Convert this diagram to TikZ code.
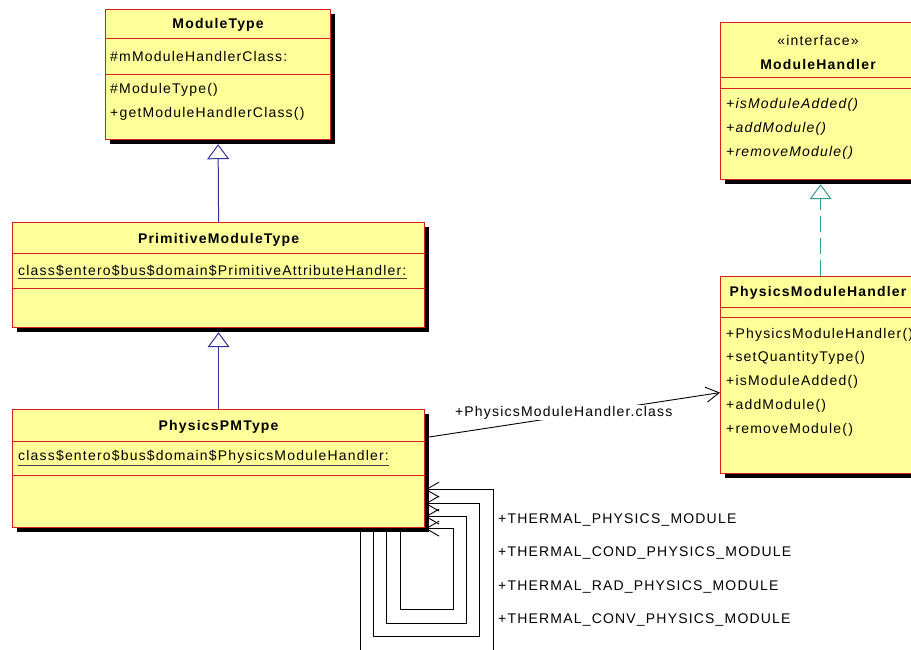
\documentclass[tikz,border=0pt]{standalone}
\usepackage{fontspec}
\newfontfamily\umlfont{Liberation Sans}[LetterSpace=8.5]
\newcommand\umlsize{\umlfont\fontsize{14}{16}\selectfont}
\usetikzlibrary{arrows.meta,shadows}
\definecolor{BoxFill}{HTML}{FFFF99}
\definecolor{BoxLine}{HTML}{D42020}
\definecolor{NavyLine}{HTML}{333399}
\definecolor{TealLine}{HTML}{339999}

\tikzset{
  classbox/.style={rectangle, draw=BoxLine, line width=1.2pt, fill=BoxFill, anchor=north west, inner sep=0pt,
    drop shadow={shadow xshift=4pt, shadow yshift=-4pt, fill=black, opacity=1}},
  divline/.style={draw=BoxLine, line width=1pt},
  classname/.style={inner sep=0pt, font=\umlsize\bfseries},
  member/.style={inner sep=0pt, anchor=west},
  abstractop/.style={member, font=\umlsize\itshape},
  underl/.style={draw=black!75, line width=1pt},
  inherit/.style={draw=NavyLine, line width=1pt, -{Triangle[open, length=15pt, width=22pt, fill=white]}},
  realize/.style={draw=TealLine, line width=1pt, dash pattern=on 16pt off 6pt, -{Triangle[open, length=15pt, width=22pt, fill=white]}},
  assoc/.style={draw=black, line width=0.9pt, -{Straight Barb[length=13pt, width=15pt]}}
}

\begin{document}
\begin{tikzpicture}[x=1pt, y=-1pt, font=\umlsize]
  \useasboundingbox (0,0) rectangle (911,649);
  \clip (0,0) rectangle (911,649);

  % ModuleType
  \node[classbox, minimum width=225pt, minimum height=130pt] (mtype) at (105,9) {};
  \draw[divline] (mtype.west |- 0,38) -- (mtype.east |- 0,38);
  \draw[divline] (mtype.west |- 0,74) -- (mtype.east |- 0,74);
  \node[classname] (mtname) at (mtype.north |- 0,25) {ModuleType};
  \node[member] (mtattr) at (110,56) {\#mModuleHandlerClass:};
  \node[member] (mtop1) at (110,90) {\#ModuleType()};
  \node[member] (mtop2) at (110,114) {+getModuleHandlerClass()};

  % ModuleHandler
  \node[classbox, minimum width=200pt, minimum height=157pt] (mhandler) at (720,22) {};
  \draw[divline] (mhandler.west |- 0,77) -- (mhandler.east |- 0,77);
  \draw[divline] (mhandler.west |- 0,88) -- (mhandler.east |- 0,88);
  \node[inner sep=0pt] (mhstereo) at (818,40) {«interface»};
  \node[classname] (mhname) at (818,64) {ModuleHandler};
  \node[abstractop] (mhop1) at (726,105) {+isModuleAdded()};
  \node[abstractop] (mhop2) at (726,129) {+addModule()};
  \node[abstractop] (mhop3) at (726,153) {+removeModule()};

  % PrimitiveModuleType
  \node[classbox, minimum width=412pt, minimum height=105pt] (primtype) at (12,222) {};
  \draw[divline] (primtype.west |- 0,253) -- (primtype.east |- 0,253);
  \draw[divline] (primtype.west |- 0,288) -- (primtype.east |- 0,288);
  \node[classname] (ptname) at (primtype.north |- 0,240) {PrimitiveModuleType};
  \node[member] (ptattr) at (18,271) {class\$entero\$bus\$domain\$PrimitiveAttributeHandler:};
  \draw[underl] ([yshift=-2pt]ptattr.south west) -- ([yshift=-2pt]ptattr.south east);

  % PhysicsPMType
  \node[classbox, minimum width=412pt, minimum height=118pt] (pmtype) at (12,409) {};
  \draw[divline] (pmtype.west |- 0,441) -- (pmtype.east |- 0,441);
  \draw[divline] (pmtype.west |- 0,475) -- (pmtype.east |- 0,475);
  \node[classname] (pmname) at (pmtype.north |- 0,427) {PhysicsPMType};
  \node[member] (pmattr) at (18,457) {class\$entero\$bus\$domain\$PhysicsModuleHandler:};
  \draw[underl] ([yshift=-2pt]pmattr.south west) -- ([yshift=-2pt]pmattr.south east);

  % PhysicsModuleHandler
  \node[classbox, minimum width=200pt, minimum height=197pt] (pmhandler) at (720,276) {};
  \draw[divline] (pmhandler.west |- 0,307) -- (pmhandler.east |- 0,307);
  \draw[divline] (pmhandler.west |- 0,317) -- (pmhandler.east |- 0,317);
  \node[classname] (phname) at (818,293) {PhysicsModuleHandler};
  \node[member] (phop1) at (726,335) {+PhysicsModuleHandler()};
  \node[member] (phop2) at (726,358) {+setQuantityType()};
  \node[member] (phop3) at (726,382) {+isModuleAdded()};
  \node[member] (phop4) at (726,406) {+addModule()};
  \node[member] (phop5) at (726,430) {+removeModule()};

  % generalisation and realisation
  \draw[inherit] (primtype.north) -- ([yshift=-4pt]mtype.south);
  \draw[inherit] (pmtype.north) -- ([yshift=-4pt]primtype.south);
  \draw[realize] (pmhandler.north) -- ([yshift=-4pt]mhandler.south);

  % association
  \draw[assoc] ([yshift=31pt]pmtype.east) -- node[pos=0.47, yshift=4pt, fill=white, inner sep=1pt] (assoclbl) {+PhysicsModuleHandler.class} ([yshift=-17.5pt]pmhandler.west);

  % self associations
  \draw[assoc] ([xshift=142pt]pmtype.south) |- (493,670) |- ([yshift=-21pt]pmtype.east);
  \draw[assoc] ([xshift=155pt]pmtype.south) |- (479,636) |- ([yshift=-35pt]pmtype.east);
  \draw[assoc] ([xshift=168pt]pmtype.south) |- (466,623) |- ([yshift=-48pt]pmtype.east);
  \draw[assoc] ([xshift=182pt]pmtype.south) |- (453,609) |- ([yshift=-60pt]pmtype.east);
  \node[member] (selflbl1) at (498,520) {+THERMAL\_PHYSICS\_MODULE};
  \node[member] (selflbl2) at (498,553) {+THERMAL\_COND\_PHYSICS\_MODULE};
  \node[member] (selflbl3) at (498,587) {+THERMAL\_RAD\_PHYSICS\_MODULE};
  \node[member] (selflbl4) at (498,620) {+THERMAL\_CONV\_PHYSICS\_MODULE};
\end{tikzpicture}
\end{document}
